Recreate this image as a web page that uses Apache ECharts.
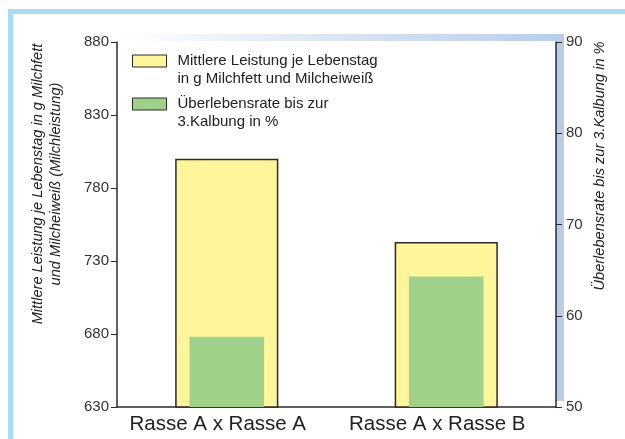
<!DOCTYPE html>
<html>
<head>
<meta charset="utf-8">
<script src="https://cdn.jsdelivr.net/npm/echarts@6/dist/echarts.min.js"></script>
<style>
  html, body { margin: 0; padding: 0; background: #ffffff; }
  #chart { width: 625px; height: 439px; }
</style>
</head>
<body>
<div id="chart"></div>
<script>
// Crossbreeding comparison: daily yield vs. survival rate
const categories = ['Rasse A x Rasse A', 'Rasse A x Rasse B'];
const leistung = [800, 743];          // g Milchfett + Milcheiweiß je Lebenstag
const ueberleben = [57.7, 64.3];      // % Überlebensrate bis zur 3. Kalbung
const leftTicks = [630, 680, 730, 780, 830, 880];
const rightTicks = [50, 60, 70, 80, 90];

const legendLeistung = 'Mittlere Leistung je Lebenstag\nin g Milchfett und Milcheiweiß';
const legendUeberleben = 'Überlebensrate bis zur\n3.Kalbung in %';
const titleLeft = 'Mittlere Leistung je Lebenstag in g Milchfett\nund Milcheiweiß (Milchleistung)';
const titleRight = 'Überlebensrate bis zur 3.Kalbung in %';

const FONT = 'Liberation Sans, Arial, Helvetica, sans-serif';
const YELLOW = '#fff59b';
const GREEN = '#9fd18b';
const FRAME = '#a9ddf6';
const BAND = '#b9cde9';
const AXIS = '#2b2b2b';

const chart = echarts.init(document.getElementById('chart'), null, { renderer: 'canvas' });

// a leading empty line keeps the swatch level with the first text line
const legendText = {
  fontFamily: FONT, fontSize: 15, color: '#222', lineHeight: 18,
  padding: [0, 0, 0, 6]
};
const legendLabel = name => '\n' + name;

chart.setOption({
  animation: false,
  backgroundColor: '#ffffff',
  grid: { left: 117, right: 69, top: 42, bottom: 32, containLabel: false },
  graphic: [
    // outer frame
    { type: 'rect', z: 0, shape: { x: 8, y: 9, width: 617, height: 5 }, style: { fill: FRAME } },
    { type: 'rect', z: 0, shape: { x: 8, y: 9, width: 5, height: 430 }, style: { fill: FRAME } },
    // shaded edges of the plot box
    { type: 'rect', z: 0, shape: { x: 118, y: 34, width: 446, height: 7 },
      style: { fill: new echarts.graphic.LinearGradient(0, 0, 1, 0, [
        { offset: 0, color: '#ffffff' }, { offset: 0.6, color: '#d3dff0' }, { offset: 1, color: BAND }]) } },
    { type: 'rect', z: 0, shape: { x: 556, y: 34, width: 8, height: 367 }, style: { fill: BAND } },
    // axis titles
    { type: 'text', z: 10, x: 47, y: 184, rotation: Math.PI / 2,
      style: { text: titleLeft, font: 'italic 14.6px ' + FONT, fill: '#222', align: 'center', verticalAlign: 'middle', lineHeight: 18 } },
    { type: 'text', z: 10, x: 600, y: 166, rotation: Math.PI / 2,
      style: { text: titleRight, font: 'italic 14.6px ' + FONT, fill: '#222', align: 'center', verticalAlign: 'middle' } }
  ],
  legend: [
    { data: [{ name: legendLeistung, itemStyle: { color: YELLOW, borderColor: AXIS, borderWidth: 1 } }],
      formatter: legendLabel,
      left: 132, top: 34, padding: 0, itemWidth: 34, itemHeight: 12, icon: 'rect',
      selectedMode: false, textStyle: legendText },
    { data: [{ name: legendUeberleben, itemStyle: { color: GREEN, borderColor: AXIS, borderWidth: 1 } }],
      formatter: legendLabel,
      left: 132, top: 77, padding: 0, itemWidth: 34, itemHeight: 12, icon: 'rect',
      selectedMode: false, textStyle: legendText }
  ],
  xAxis: [
    { type: 'category', data: categories, position: 'bottom',
      axisLine: { lineStyle: { color: AXIS, width: 1.5 } }, axisTick: { show: false },
      axisLabel: { interval: 0, hideOverlap: false, fontFamily: FONT, fontSize: 20.5, color: '#222',
        margin: 7, padding: [0, 18, 0, 0] } },
    { type: 'category', data: categories, show: false }
  ],
  yAxis: [
    { type: 'value', min: leftTicks[0], max: leftTicks[leftTicks.length - 1], interval: 50, position: 'left',
      axisLine: { show: true, lineStyle: { color: AXIS, width: 1.5 } },
      axisTick: { show: true, length: 6, lineStyle: { color: AXIS } },
      axisLabel: { fontFamily: FONT, fontSize: 15, color: '#333', margin: 8 },
      splitLine: { show: false } },
    { type: 'value', min: rightTicks[0], max: rightTicks[rightTicks.length - 1], interval: 10, position: 'right',
      axisLine: { show: true, lineStyle: { color: AXIS, width: 1.5 } },
      axisTick: { show: true, length: 6, lineStyle: { color: AXIS } },
      axisLabel: { fontFamily: FONT, fontSize: 15, color: '#333', margin: 10 },
      splitLine: { show: false } }
  ],
  series: [
    { name: legendLeistung, type: 'bar', xAxisIndex: 0, yAxisIndex: 0, data: leistung,
      barWidth: '47%', itemStyle: { color: YELLOW, borderColor: AXIS, borderWidth: 1.5 }, z: 2 },
    { name: legendUeberleben, type: 'bar', xAxisIndex: 1, yAxisIndex: 1, data: ueberleben,
      barWidth: '34%', itemStyle: { color: GREEN }, z: 3 }
  ]
});
</script>
</body>
</html>
